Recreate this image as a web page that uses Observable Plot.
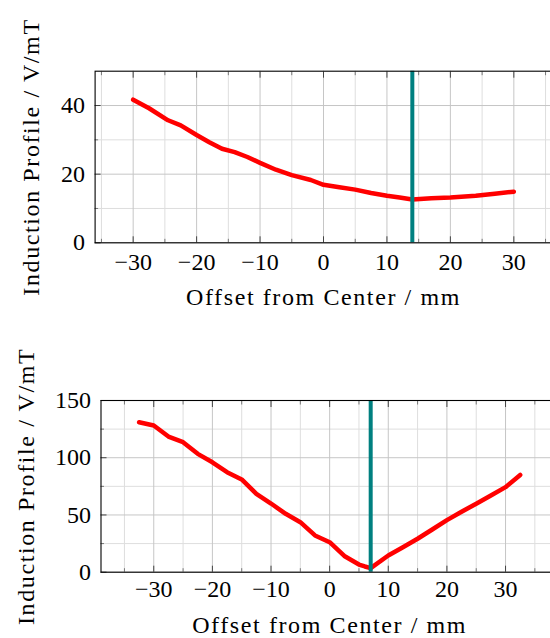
<!DOCTYPE html>
<html>
<head>
<meta charset="utf-8">
<script src="https://cdn.jsdelivr.net/npm/d3@7"></script>
<script src="https://cdn.jsdelivr.net/npm/@observablehq/plot@0.6"></script>
<style>
  html, body { margin: 0; padding: 0; background: #fff; }
  #fig { width: 550px; height: 638px; overflow: hidden; position: relative; background: #fff; }
  #fig svg { display: block; background: #fff; max-width: none !important; flex: none; font-family: 'Liberation Serif', 'DejaVu Serif', serif !important; }
  #fig svg g, #fig svg text { font-family: 'Liberation Serif', 'DejaVu Serif', serif !important; font-size: 24px !important; }
  #fig svg text.axis-title { letter-spacing: 1.6px; }
</style>
</head>
<body>
<div id="fig"></div>
<script>
// Upper scan: induction profile across the offset range
const topOffset = [-30, -27.5, -24.5, -22.5, -20, -18, -16, -14, -12, -10, -7.5, -5, -2, 0, 2.5, 5, 7.5, 10, 12, 14, 17, 20, 24, 27, 30];
const topInduction = [41.7, 39.2, 35.7, 34.2, 31.4, 29.3, 27.4, 26.4, 25.0, 23.3, 21.3, 19.7, 18.3, 16.9, 16.2, 15.5, 14.5, 13.7, 13.2, 12.6, 13.0, 13.2, 13.7, 14.3, 14.9];
const topCenter = 14;

// Lower scan
const bottomOffset = [-32.5, -30, -27.5, -25, -22.5, -20, -17.5, -15, -12.5, -10, -7.5, -5, -2.5, 0, 2.5, 5, 6, 7, 10, 12.5, 15, 17.5, 20, 22.5, 25, 27.5, 30, 32.5];
const bottomInduction = [131.0, 128.2, 118.5, 113.6, 103.4, 96.0, 87.4, 81.0, 68.5, 60.0, 51.0, 43.7, 32.1, 26.2, 14.2, 6.7, 5.0, 3.5, 14.6, 21.8, 29.2, 37.3, 45.5, 52.8, 59.8, 67.0, 74.3, 85.0];
const bottomCenter = 7;

// Axis ticks
const xTicks = [-30, -20, -10, 0, 10, 20, 30];
const xMinorTicks = [-35, -25, -15, -5, 5, 15, 25, 35];
const topYTicks = [0, 20, 40];
const topYMinorTicks = [10, 30];
const bottomYTicks = [0, 50, 100, 150];
const bottomYMinorTicks = [25, 75, 125];

const xLabel = "Offset from Center / mm";
const yLabel = "Induction Profile / V/mT";

const MAJOR_GRID = "#c6c6c6";
const MINOR_GRID = "#dedede";

function panel(o) {
  const data = o.offset.map((x, i) => ({x, y: o.induction[i]}));
  const blank = () => "";
  // short tick marks drawn inside the frame: outward ticks shifted back in by their own length
  const inward = (ticks, size, stroke) => [
    Plot.axisX({ticks, anchor: "bottom", tickSize: size, dy: -size, tickFormat: blank, label: null, stroke}),
    Plot.axisX({ticks, anchor: "top", tickSize: size, dy: size, tickFormat: blank, label: null, stroke})
  ];
  const svg = Plot.plot({
    width: o.width,
    height: o.height,
    marginTop: o.marginTop,
    marginBottom: o.marginBottom,
    marginLeft: o.marginLeft,
    marginRight: o.marginRight,
    x: {domain: o.xDomain},
    y: {domain: o.yDomain},
    marks: [
      Plot.gridX({ticks: xMinorTicks, stroke: MINOR_GRID, strokeOpacity: 1}),
      Plot.gridY({ticks: o.yMinor, stroke: MINOR_GRID, strokeOpacity: 1}),
      Plot.gridX({ticks: xTicks, stroke: MAJOR_GRID, strokeOpacity: 1}),
      Plot.gridY({ticks: o.yTicks, stroke: MAJOR_GRID, strokeOpacity: 1}),
      Plot.line(data, {x: "x", y: "y", stroke: "#ff0000", strokeWidth: 4.5, strokeLinejoin: "round"}),
      Plot.ruleX([o.center], {stroke: "#008080", strokeWidth: 4}),
      ...inward(xTicks, 6, "#444"),
      ...inward(xMinorTicks, 3.5, "#777"),
      Plot.axisY({ticks: o.yTicks, anchor: "left", tickSize: 6, dx: 6, tickFormat: blank, label: null, stroke: "#444"}),
      Plot.axisY({ticks: o.yMinor, anchor: "left", tickSize: 3.5, dx: 3.5, tickFormat: blank, label: null, stroke: "#777"}),
      // tick labels
      Plot.axisX({ticks: xTicks, anchor: "bottom", tickSize: 0, tickPadding: o.xTickPad, label: null}),
      Plot.axisY({ticks: o.yTicks, anchor: "left", tickSize: 0, tickPadding: 10, label: null}),
      Plot.frame({stroke: "#000", strokeWidth: 1.1}),
      // axis titles
      Plot.text([xLabel], {text: d => d, frameAnchor: "bottom", textAnchor: "middle", lineAnchor: "middle", dy: o.xLabelDy}),
      Plot.text([yLabel], {text: d => d, frameAnchor: "left", textAnchor: "middle", lineAnchor: "middle", rotate: -90, dx: o.yLabelDx})
    ]
  });
  svg.style.maxWidth = "none";
  svg.querySelectorAll("text").forEach(t => {
    if (t.textContent === xLabel || t.textContent === yLabel) t.classList.add("axis-title");
  });
  return svg;
}

const fig = document.getElementById("fig");

fig.appendChild(panel({
  offset: topOffset, induction: topInduction, center: topCenter,
  xDomain: [-36, 36], yDomain: [0, 50],
  yTicks: topYTicks, yMinor: topYMinorTicks,
  width: 556, height: 320,
  marginTop: 70.7, marginBottom: 77.7, marginLeft: 94.6, marginRight: 4.6,
  xTickPad: 10, xLabelDy: 55, yLabelDx: -63.6
}));

fig.appendChild(panel({
  offset: bottomOffset, induction: bottomInduction, center: bottomCenter,
  xDomain: [-39, 39], yDomain: [0, 150],
  yTicks: bottomYTicks, yMinor: bottomYMinorTicks,
  width: 562, height: 318,
  marginTop: 80, marginBottom: 66.3, marginLeft: 100.5, marginRight: 4.2,
  xTickPad: 8, xLabelDy: 53.3, yLabelDx: -74.5
}));
</script>
</body>
</html>
